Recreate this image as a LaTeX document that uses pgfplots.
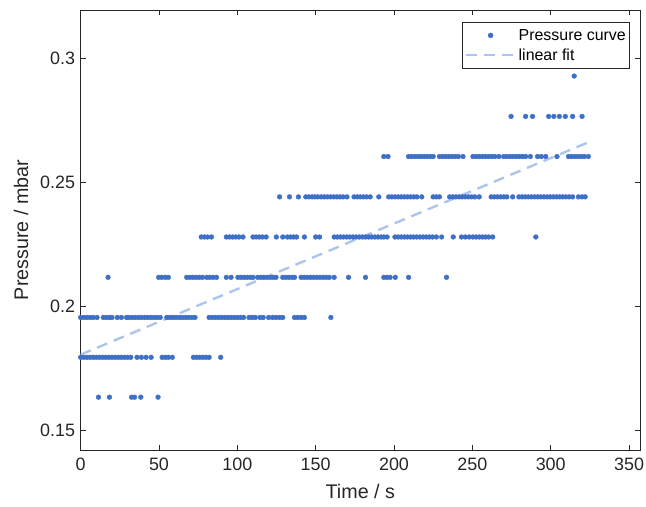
\documentclass[border=0pt]{standalone}
\usepackage{pgfplots}
\pgfplotsset{compat=1.18}
\usepackage{fontspec}
\setmainfont{Liberation Sans}
\definecolor{dotblue}{RGB}{62,112,200}
\definecolor{fitblue}{RGB}{172,197,236}
\definecolor{axgray}{RGB}{38,38,38}
\begin{document}
\begin{tikzpicture}
\begin{axis}[
  scale only axis,
  width=562pt, height=442pt,
  xmin=0, xmax=357, ymin=0.142, ymax=0.3197,
  xtick={0,50,100,150,200,250,300,350},
  ytick={0.15,0.2,0.25,0.3},
  yticklabels={0.15,0.2,0.25,0.3},
  /pgf/number format/assume math mode=true,
  tick align=inside,
  major tick length=5pt,
  axis line style={axgray, line width=0.6pt},
  every tick/.style={axgray, line width=0.6pt},
  tick label style={font=\fontsize{18}{20}\selectfont, text=axgray},
  xticklabel style={yshift=-5pt},
  yticklabel style={xshift=-2pt},
  label style={font=\fontsize{19.8}{22}\selectfont, text=axgray},
  xlabel={Time / s},
  ylabel={Pressure / mbar},
  xlabel style={yshift=-6pt},
  ylabel style={yshift=5pt},
  legend style={at={(1,1)}, anchor=north east, xshift=-10pt, yshift=-12pt,
    font=\fontsize{16}{18}\selectfont, draw=axgray, line width=0.6pt, fill=white,
    cells={anchor=west}, inner xsep=2pt, inner ysep=5pt, row sep=3pt},
  legend cell align=left,
]
\addplot[dotblue, only marks, mark=*, mark size=2.4pt, mark options={draw=none, fill=dotblue},
  legend image code/.code={\fill[dotblue] (25pt,0pt) circle (2.4pt); \path[draw=none] (0pt,0pt) -- (50pt,0pt);}]
coordinates {
% level 0.1633
(11.4,0.1633) (18.4,0.1633) (32.5,0.1633) (34.4,0.1633) (38.4,0.1633) (49.4,0.1633)
% level 0.1794
(0,0.1794) (2,0.1794) (4,0.1794) (6,0.1794) (8,0.1794) (10,0.1794) (12,0.1794) (14,0.1794)
(16,0.1794) (18,0.1794) (20,0.1794) (22,0.1794) (24,0.1794) (26,0.1794) (28,0.1794) (30,0.1794) (32,0.1794)
(36,0.1794) (38.8,0.1794) (41.8,0.1794) (45,0.1794)
(52,0.1794) (54,0.1794) (56,0.1794) (58.5,0.1794)
(72,0.1794) (74,0.1794) (76,0.1794) (78,0.1794) (80,0.1794) (82,0.1794) (89.4,0.1794)
% level 0.1955
(0,0.1955) (2,0.1955) (4,0.1955) (6,0.1955) (8,0.1955) (10.5,0.1955)
(14.5,0.1955) (16.5,0.1955) (18.4,0.1955) (20,0.1955) (23.4,0.1955) (26,0.1955) (29.3,0.1955)
(30.8,0.1955) (32.8,0.1955) (34.8,0.1955) (36.8,0.1955) (38.8,0.1955) (40.8,0.1955) (42.8,0.1955)
(44.8,0.1955) (46.8,0.1955) (48.8,0.1955) (50.8,0.1955)
(55,0.1955) (57,0.1955) (59,0.1955) (61,0.1955) (63,0.1955) (65,0.1955) (67,0.1955) (69,0.1955) (71,0.1955) (73,0.1955)
(82,0.1955) (84,0.1955) (86,0.1955) (88,0.1955) (90,0.1955) (92,0.1955) (94,0.1955) (96,0.1955)
(98,0.1955) (100,0.1955) (102,0.1955) (104,0.1955)
(107.5,0.1955) (109.5,0.1955) (111.5,0.1955) (114.5,0.1955) (116.5,0.1955)
(120,0.1955) (122.5,0.1955) (124.7,0.1955) (127,0.1955) (129,0.1955)
(136.5,0.1955) (138.5,0.1955) (140.7,0.1955) (142.8,0.1955) (159.7,0.1955)
% level 0.2117
(17.5,0.2117) (49.8,0.2117) (51.8,0.2117) (54,0.2117) (56,0.2117)
(67.7,0.2117) (69.7,0.2117) (71.7,0.2117) (73.7,0.2117) (75.7,0.2117) (77.7,0.2117) (80.4,0.2117)
(82.4,0.2117) (84.5,0.2117) (86.7,0.2117) (93,0.2117) (96,0.2117)
(100.4,0.2117) (102.4,0.2117) (104.4,0.2117) (106.4,0.2117) (108.4,0.2117) (110,0.2117)
(113,0.2117) (115,0.2117) (117,0.2117) (119,0.2117) (121,0.2117) (123,0.2117) (124.7,0.2117)
(129,0.2117) (131,0.2117) (133,0.2117) (135,0.2117) (136.5,0.2117)
(140.7,0.2117) (142.7,0.2117) (144.7,0.2117) (146.7,0.2117) (148.7,0.2117) (150.7,0.2117)
(152.7,0.2117) (154.7,0.2117) (156.7,0.2117) (158.7,0.2117) (161.8,0.2117)
(171,0.2117) (181.8,0.2117) (193.5,0.2117) (195.5,0.2117) (197.5,0.2117) (200.8,0.2117)
(209.3,0.2117) (233.5,0.2117)
% level 0.2280
(77,0.2280) (79,0.2280) (81,0.2280) (83.5,0.2280)
(93,0.2280) (95,0.2280) (97,0.2280) (99,0.2280) (101,0.2280) (103.6,0.2280)
(110,0.2280) (112,0.2280) (114,0.2280) (116,0.2280) (118.4,0.2280)
(124.9,0.2280) (129,0.2280) (132,0.2280) (134,0.2280) (136,0.2280) (137.8,0.2280) (142.8,0.2280)
(150,0.2280) (152.5,0.2280)
(161.8,0.2280) (163.8,0.2280) (165.8,0.2280) (167.8,0.2280) (169.8,0.2280) (171.8,0.2280)
(173.8,0.2280) (175.8,0.2280) (177.8,0.2280) (179.8,0.2280) (181.8,0.2280) (183.8,0.2280)
(185.8,0.2280) (187.8,0.2280) (189.8,0.2280) (191.8,0.2280) (193.5,0.2280) (195.6,0.2280)
(200.6,0.2280) (202.6,0.2280) (204.6,0.2280) (206.6,0.2280) (208.6,0.2280) (210.6,0.2280)
(212.5,0.2280) (214.5,0.2280) (216.5,0.2280) (218.5,0.2280) (220.5,0.2280) (222.5,0.2280)
(224.5,0.2280) (227,0.2280) (230.4,0.2280) (237.8,0.2280)
(243,0.2280) (245.5,0.2280) (248,0.2280)
(250.4,0.2280) (252.4,0.2280) (254.4,0.2280) (256.4,0.2280) (258.4,0.2280) (260.4,0.2280) (263,0.2280)
(290.5,0.2280)
% level 0.2442
(127,0.2442) (133.3,0.2442) (139,0.2442)
(143.7,0.2442) (145.7,0.2442) (147.7,0.2442) (149.5,0.2442) (151.3,0.2442)
(153.5,0.2442) (155.5,0.2442) (157.5,0.2442) (159.5,0.2442) (161.5,0.2442) (163.5,0.2442)
(165.5,0.2442) (167.5,0.2442) (170,0.2442)
(174.5,0.2442) (176.5,0.2442) (178.5,0.2442) (180.5,0.2442) (182.5,0.2442) (184.8,0.2442)
(190.3,0.2442)
(196.6,0.2442) (198.6,0.2442) (200.6,0.2442) (202.6,0.2442) (204.6,0.2442) (206.6,0.2442)
(208.6,0.2442) (210.6,0.2442) (212.6,0.2442) (214.6,0.2442) (217.7,0.2442)
(225,0.2442) (227,0.2442) (229,0.2442)
(235.5,0.2442) (237.5,0.2442) (239.5,0.2442) (241.5,0.2442) (243.5,0.2442) (245.5,0.2442)
(247.5,0.2442) (249.5,0.2442) (251.5,0.2442) (254.4,0.2442)
(262,0.2442) (264,0.2442) (266,0.2442) (268,0.2442) (270,0.2442) (272,0.2442) (275.7,0.2442)
(279.7,0.2442) (281.7,0.2442) (283.7,0.2442) (285.7,0.2442) (287.7,0.2442) (289.7,0.2442)
(291.7,0.2442) (293.7,0.2442) (295.7,0.2442) (297.7,0.2442) (299.7,0.2442) (301.7,0.2442)
(303.7,0.2442) (305.7,0.2442) (307.7,0.2442) (309.7,0.2442) (311.7,0.2442) (314,0.2442)
(317.7,0.2442) (320,0.2442) (322,0.2442)
% level 0.2605
(193.5,0.2605) (196.2,0.2605)
(209.3,0.2605) (211.3,0.2605) (213.3,0.2605) (215.3,0.2605) (217.3,0.2605) (219.3,0.2605)
(221.3,0.2605) (223.3,0.2605) (225,0.2605)
(229,0.2605) (231,0.2605) (233,0.2605) (235,0.2605) (237,0.2605) (239,0.2605) (241,0.2605) (244,0.2605)
(250.4,0.2605) (252.4,0.2605) (254.4,0.2605) (256.4,0.2605) (258.4,0.2605) (260.4,0.2605)
(262.4,0.2605) (264.4,0.2605) (267,0.2605)
(270,0.2605) (272,0.2605) (274,0.2605) (276,0.2605) (278,0.2605) (280,0.2605) (282,0.2605)
(284,0.2605) (287,0.2605)
(291.6,0.2605) (294,0.2605) (296.8,0.2605) (304,0.2605)
(311.4,0.2605) (313.4,0.2605) (315.4,0.2605) (317.4,0.2605) (319.4,0.2605) (321.4,0.2605) (324,0.2605)
% level 0.2767
(274.7,0.2767) (284,0.2767) (288.4,0.2767)
(298.7,0.2767) (302,0.2767) (305.5,0.2767) (309.3,0.2767)
(314,0.2767) (320,0.2767)
% level 0.2930
(315,0.2930)
};
\addlegendentry{Pressure curve}
\addplot[fitblue, line width=2.4pt, dash pattern=on 11pt off 7pt,
  legend image code/.code={\draw[fitblue, line width=2.4pt, dash pattern=on 11pt off 7pt] (0pt,0pt) -- (50pt,0pt);}]
coordinates {(0,0.1805) (325,0.2665)};
\addlegendentry{linear fit}
\end{axis}
\path (current axis.south west) ++(-81pt,-57pt) coordinate (bl);
\path (current axis.north east) ++(6pt,10pt) coordinate (tr);
\pgfresetboundingbox
\path (bl) rectangle (tr);
\end{tikzpicture}
\end{document}
